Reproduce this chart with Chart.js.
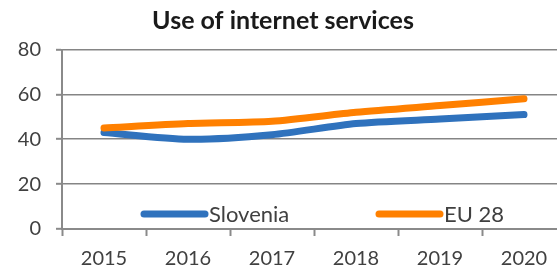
<!DOCTYPE html>
<html>
<head>
<meta charset="utf-8">
<script src="https://cdn.jsdelivr.net/npm/chart.js@4"></script>
<style>
  html, body { margin: 0; padding: 0; background: #fff; overflow: hidden; }
  #wrap { width: 585px; height: 271px; }
</style>
</head>
<body>
<div id="wrap"><canvas id="usageChart" width="585" height="271"></canvas></div>
<script>
const years = ['2015', '2016', '2017', '2018', '2019', '2020'];
const slovenia = [43, 40, 42, 47, 49, 51];
const eu28 = [45, 47, 48, 52, 55, 58];
const yTicks = [0, 20, 40, 60, 80];

const blue = '#2F72BD';
const orange = '#FF8000';
const textColor = '#404040';
const axisColor = '#8a8a8a';

// legend sits inside the plot, just above the x axis
const insideLegend = {
    id: 'insideLegend',
    afterDatasetsDraw(chart) {
        const { ctx, chartArea } = chart;
        const y = chartArea.bottom - 15;
        const items = [
            { x: chartArea.left + 82, ds: chart.data.datasets[0] },
            { x: chartArea.left + 317, ds: chart.data.datasets[1] }
        ];
        ctx.save();
        ctx.font = '22px Lato';
        ctx.textBaseline = 'middle';
        ctx.fillStyle = textColor;
        items.forEach(function (it) {
            ctx.beginPath();
            ctx.lineWidth = 7;
            ctx.lineCap = 'round';
            ctx.strokeStyle = it.ds.borderColor;
            ctx.moveTo(it.x, y);
            ctx.lineTo(it.x + 61, y);
            ctx.stroke();
            ctx.fillText(it.ds.label, it.x + 65, y + 1);
        });
        ctx.restore();
    }
};

const canvas = document.getElementById('usageChart');
new Chart(canvas.getContext('2d'), {
    type: 'line',
    data: {
        labels: years,
        datasets: [
            {
                label: 'Slovenia',
                data: slovenia,
                borderColor: blue,
                backgroundColor: blue,
                borderWidth: 7,
                borderCapStyle: 'round',
                pointRadius: 0,
                tension: 0.25,
                order: 1
            },
            {
                label: 'EU 28',
                data: eu28,
                borderColor: orange,
                backgroundColor: orange,
                borderWidth: 7,
                borderCapStyle: 'round',
                pointRadius: 0,
                tension: 0.25,
                order: 0
            }
        ]
    },
    options: {
        responsive: false,
        animation: false,
        layout: { padding: { left: 0, right: 19, top: 0, bottom: 0 } },
        plugins: {
            legend: { display: false },
            tooltip: { enabled: false },
            title: {
                display: true,
                text: 'Use of internet services',
                color: '#1a1a1a',
                font: { family: 'Lato', size: 25, weight: 'bold', lineHeight: 1.1 },
                padding: { top: 7, bottom: 15 }
            }
        },
        scales: {
            x: {
                offset: true,
                grid: {
                    offset: true,
                    drawOnChartArea: false,
                    drawTicks: true,
                    tickLength: 7,
                    tickColor: axisColor,
                    tickWidth: 2
                },
                border: { display: true, color: axisColor, width: 2 },
                ticks: {
                    color: textColor,
                    font: { family: 'Lato', size: 20 },
                    padding: 11,
                    maxRotation: 0
                },
                afterFit(scale) { scale.height = 42; }
            },
            y: {
                min: 0,
                max: 80,
                afterBuildTicks(scale) { scale.ticks = yTicks.map(v => ({ value: v })); },
                grid: {
                    color: '#858585',
                    lineWidth: 1.6,
                    borderDash: [6, 3],
                    tickBorderDash: [],
                    tickLength: 6,
                    tickColor: axisColor,
                    tickWidth: 2
                },
                border: { display: true, color: axisColor, width: 2 },
                ticks: {
                    color: textColor,
                    font: { family: 'Lato', size: 20 },
                    padding: 15
                },
                afterFit(scale) { scale.width = 62; }
            }
        }
    },
    plugins: [insideLegend]
});
</script>
</body>
</html>
